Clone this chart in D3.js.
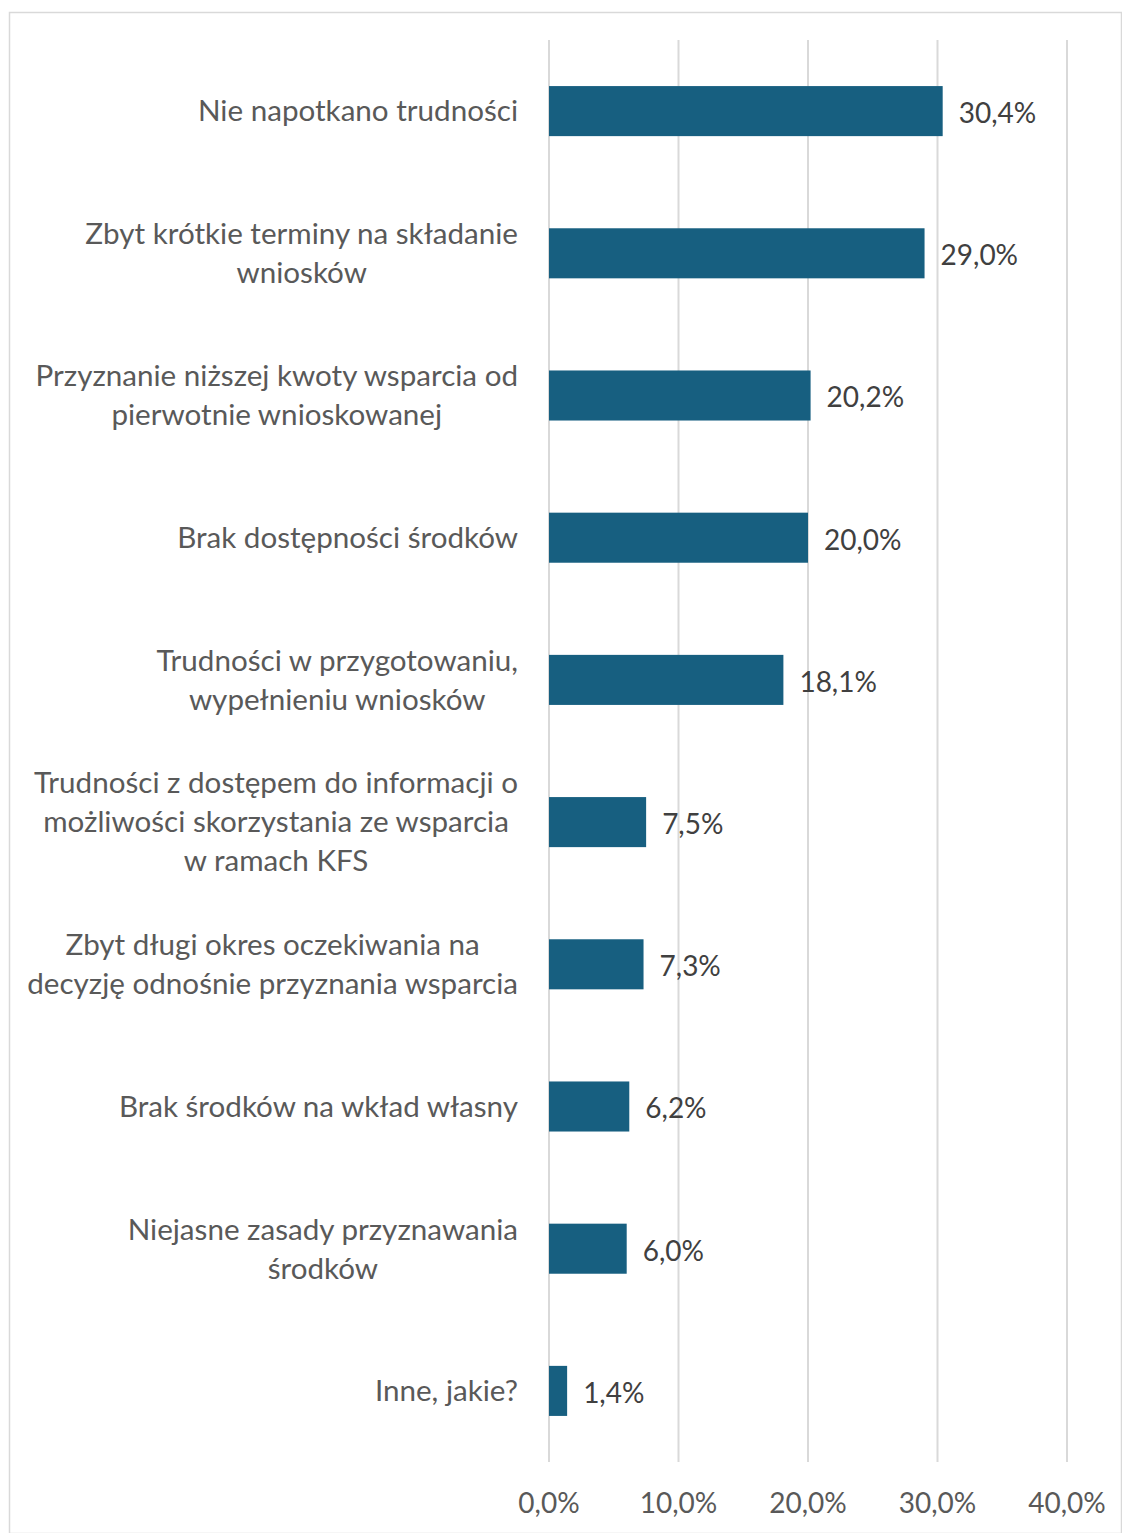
<!DOCTYPE html>
<html>
<head>
<meta charset="utf-8">
<script src="https://cdn.jsdelivr.net/npm/d3@7"></script>
<style>
  body { margin: 0; background: #fff; }
  svg { display: block; font-family: Lato, "Open Sans", sans-serif; }
</style>
</head>
<body>
<div id="viz"></div>
<script>
var categories = [
    ['Nie napotkano trudności'],
    ['Zbyt krótkie terminy na składanie', 'wniosków'],
    ['Przyznanie niższej kwoty wsparcia od', 'pierwotnie wnioskowanej'],
    ['Brak dostępności środków'],
    ['Trudności w przygotowaniu,', 'wypełnieniu wniosków'],
    ['Trudności z dostępem do informacji o', 'możliwości skorzystania ze wsparcia', 'w ramach KFS'],
    ['Zbyt długi okres oczekiwania na', 'decyzję odnośnie przyznania wsparcia'],
    ['Brak środków na wkład własny'],
    ['Niejasne zasady przyznawania', 'środków'],
    ['Inne, jakie?']
];
var values = [30.4, 29.0, 20.2, 20.0, 18.1, 7.5, 7.3, 6.2, 6.0, 1.4];
var ticks = [0, 10, 20, 30, 40];

var width = 1122,
    height = 1533,
    plotLeft = 549,
    plotRight = 1067,
    plotTop = 40,
    plotBottom = 1462,
    fontSize = 28,
    catFontSize = 29.6,
    lineH = 39;

var fmt = function(v) { return v.toFixed(1).replace('.', ',') + '%'; };

var x = d3.scaleLinear()
    .domain([0, 40])
    .range([plotLeft, plotRight]);

var y = d3.scaleBand()
    .domain(d3.range(values.length))
    .range([plotTop, plotBottom])
    .paddingInner(0.648)
    .paddingOuter(0.324);

var svg = d3.select('#viz').append('svg')
    .attr('width', width)
    .attr('height', height);

// outer border
svg.append('rect')
    .attr('x', 9.5).attr('y', 12.5)
    .attr('width', 1112).attr('height', 1521)
    .attr('fill', 'none')
    .attr('stroke', '#d9d9d9')
    .attr('stroke-width', 1.5);

// gridlines
svg.selectAll('line.grid').data(ticks)
    .enter().append('line')
    .attr('class', 'grid')
    .attr('x1', function(d) { return x(d); })
    .attr('x2', function(d) { return x(d); })
    .attr('y1', plotTop)
    .attr('y2', plotBottom)
    .attr('stroke', '#d9d9d9')
    .attr('stroke-width', 2);

// x axis labels
svg.selectAll('text.tick').data(ticks)
    .enter().append('text')
    .attr('class', 'tick')
    .attr('x', function(d) { return x(d); })
    .attr('y', 1503)
    .attr('dy', '0.35em')
    .attr('text-anchor', 'middle')
    .attr('font-size', fontSize)
    .attr('fill', '#595959')
    .text(function(d) { return fmt(d); });

// bars
svg.selectAll('rect.bar').data(values)
    .enter().append('rect')
    .attr('class', 'bar')
    .attr('x', x(0))
    .attr('y', function(d, i) { return y(i); })
    .attr('width', function(d) { return x(d) - x(0); })
    .attr('height', y.bandwidth())
    .attr('fill', '#175f80');

// value labels
svg.selectAll('text.val').data(values)
    .enter().append('text')
    .attr('class', 'val')
    .attr('x', function(d) { return x(d) + 16; })
    .attr('y', function(d, i) { return y(i) + y.bandwidth() / 2 + 2; })
    .attr('dy', '0.35em')
    .attr('font-size', fontSize)
    .attr('fill', '#404040')
    .text(function(d) { return fmt(d); });

// category labels, centred block, right edge at 518
var labelRight = 518;
var cat = svg.selectAll('g.cat').data(categories)
    .enter().append('g')
    .attr('class', 'cat');

cat.each(function(lines, i) {
    var g = d3.select(this);
    var cy = y(i) + y.bandwidth() / 2;
    var texts = lines.map(function(line, j) {
        return g.append('text')
            .attr('y', cy + (j - (lines.length - 1) / 2) * lineH)
            .attr('dy', '0.35em')
            .attr('text-anchor', 'middle')
            .attr('font-size', catFontSize)
            .attr('fill', '#595959')
            .text(line);
    });
    var maxW = d3.max(texts, function(t) { return t.node().getComputedTextLength(); });
    texts.forEach(function(t) { t.attr('x', labelRight - maxW / 2); });
});
</script>
</body>
</html>
